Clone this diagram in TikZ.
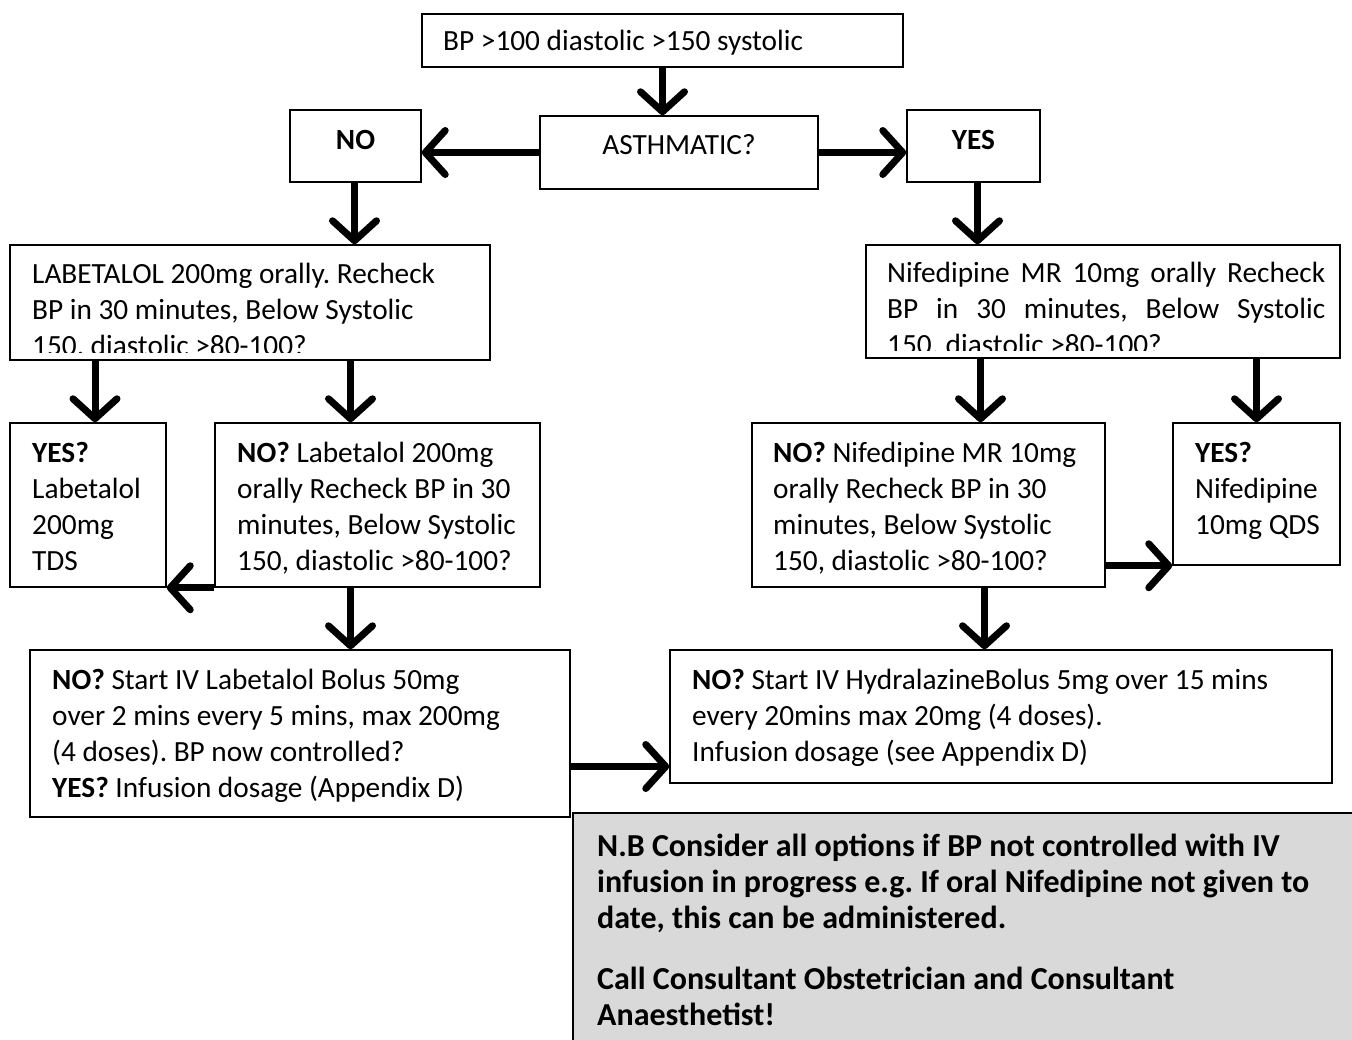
\documentclass[tikz,border=0pt]{standalone}
\usepackage{fontspec}
\setmainfont{Carlito}
\usetikzlibrary{arrows.meta}
\definecolor{notegray}{HTML}{D9D9D9}
\frenchspacing

\begin{document}
\begin{tikzpicture}[x=1pt,y=-1pt]
  \tikzstyle{box}=[draw, line width=1.5pt, inner sep=0pt]
  \tikzstyle{txt}=[anchor=base west, inner sep=0pt, text width=760pt, align=justify,
font=\fontsize{29.3}{36}\selectfont]
  \tikzstyle{arr}=[line width=7pt, -{Straight Barb[length=20pt,width=44pt,round]}]
  \useasboundingbox (0,0) rectangle (1352,1039);

  % boxes
  \node[box, minimum width=481pt, minimum height=53pt] (B_top) at (662.5,40.5) {};
  \node[box, minimum width=278pt, minimum height=73pt] (B_asth) at (679,152.5) {};
  \node[box, minimum width=131pt, minimum height=72pt] (B_no) at (355.5,146) {};
  \node[box, minimum width=133pt, minimum height=72pt] (B_yes) at (973.5,146) {};
  \node[box, minimum width=480pt, minimum height=115pt] (B_lab) at (250,302.5) {};
  \node[box, minimum width=474pt, minimum height=113pt] (B_nif) at (1103,301.5) {};
  \node[box, minimum width=156pt, minimum height=164pt] (B_yl) at (88,505) {};
  \node[box, minimum width=325pt, minimum height=164pt] (B_nl) at (377.5,505) {};
  \node[box, minimum width=353pt, minimum height=164pt] (B_nn) at (928.5,505) {};
  \node[box, minimum width=167pt, minimum height=142pt] (B_yn) at (1256.5,494) {};
  \node[box, minimum width=540pt, minimum height=167pt] (B_iv) at (300,733.5) {};
  \node[box, minimum width=662pt, minimum height=133pt] (B_hy) at (1001,716.5) {};
  \node[box, fill=notegray, minimum width=800pt, minimum height=240pt, anchor=north west] (B_nb) at (572,812) {};

  % texts
  \node[txt] (T_top) at (443,50) {BP >100 diastolic >150 systolic};
  \node[txt, anchor=base, text width=, align=center] (T_asth) at (679,154) {ASTHMATIC?};
  \node[txt, anchor=base, text width=, align=center] (T_no) at (355.5,149) {\textbf{NO}};
  \node[txt, anchor=base, text width=, align=center] (T_yes) at (973.5,149) {\textbf{YES}};
  \begin{scope}
    \clip ([yshift=8pt]B_lab.south west) rectangle (B_lab.north east);
    \node[txt] (T_lab) at (32,283) {LABETALOL 200mg orally. Recheck\\
BP in 30 minutes, Below Systolic\\ 150, diastolic >80-100?};
  \end{scope}
  \begin{scope}
    \clip ([yshift=8pt]B_nif.south west) rectangle (B_nif.north east);
    \node[txt] (T_nif) at (887,282) {\makebox[438pt][s]{Nifedipine MR 10mg orally Recheck}\\
\makebox[438pt][s]{BP in 30 minutes, Below Systolic}\\ 150, diastolic >80-100?};
  \end{scope}
  \node[txt] (T_yl) at (32,462) {\textbf{YES?}\\ Labetalol\\ 200mg\\ TDS};
  \node[txt] (T_nl) at (237,462) {\textbf{NO?} Labetalol 200mg\\ orally Recheck BP in 30\\
minutes, Below Systolic\\ 150, diastolic >80-100?};
  \node[txt] (T_nn) at (773,462) {\textbf{NO?} Nifedipine MR 10mg\\ orally Recheck BP in 30\\
minutes, Below Systolic\\ 150, diastolic >80-100?};
  \node[txt] (T_yn) at (1195,462) {\textbf{YES?}\\ Nifedipine\\ 10mg QDS};
  \node[txt] (T_iv) at (52,689) {\textbf{NO?} Start IV Labetalol Bolus 50mg\\
over 2 mins every 5 mins, max 200mg\\ (4 doses). BP now controlled?\\
\textbf{YES?} Infusion dosage (Appendix D)};
  \node[txt] (T_hy) at (692,689) {\textbf{NO?} Start IV HydralazineBolus 5mg over 15 mins\\
every 20mins max 20mg (4 doses).\\ Infusion dosage (see Appendix D)};
  \node[txt, font=\fontsize{32}{36}\selectfont\bfseries] (T_nb) at (597,856)
{N.B Consider all options if BP not controlled with IV\\
infusion in progress e.g. If oral Nifedipine not given to\\
date, this can be administered.\\[25pt]
Call Consultant Obstetrician and Consultant\\ Anaesthetist!};

  % arrows
  \draw[arr] (B_top.south) -- (B_top.south |- B_asth.north);
  \draw[arr] (B_asth.west) -- (B_asth.west -| B_no.east);
  \draw[arr] (B_asth.east) -- (B_asth.east -| B_yes.west);
  \draw[arr] ([xshift=-1pt]B_no.south) -- ([xshift=-1pt]B_no.south |- B_lab.north);
  \draw[arr] ([xshift=4pt]B_yes.south) -- ([xshift=4pt]B_yes.south |- B_nif.north);
  \draw[arr] ([xshift=7pt]B_yl.north |- B_lab.south) -- ([xshift=7pt]B_yl.north);
  \draw[arr] ([xshift=-27pt]B_nl.north |- B_lab.south) -- ([xshift=-27pt]B_nl.north);
  \draw[arr] ([xshift=52pt]B_nn.north |- B_nif.south) -- ([xshift=52pt]B_nn.north);
  \draw[arr] (B_yn.north |- B_nif.south) -- (B_yn.north);
  \draw[arr] (B_nl.south west) -- (B_yl.south east);
  \draw[arr] (B_nn.east |- B_yn.south) -- (B_yn.south west);
  \draw[arr] ([xshift=-27pt]B_nl.south) -- ([xshift=-27pt]B_nl.south |- B_iv.north);
  \draw[arr] ([xshift=56pt]B_nn.south) -- ([xshift=56pt]B_nn.south |- B_hy.north);
  \draw[arr] ([yshift=-33pt]B_iv.east) -- ([yshift=-33pt]B_iv.east -| B_hy.west);
\end{tikzpicture}
\end{document}
